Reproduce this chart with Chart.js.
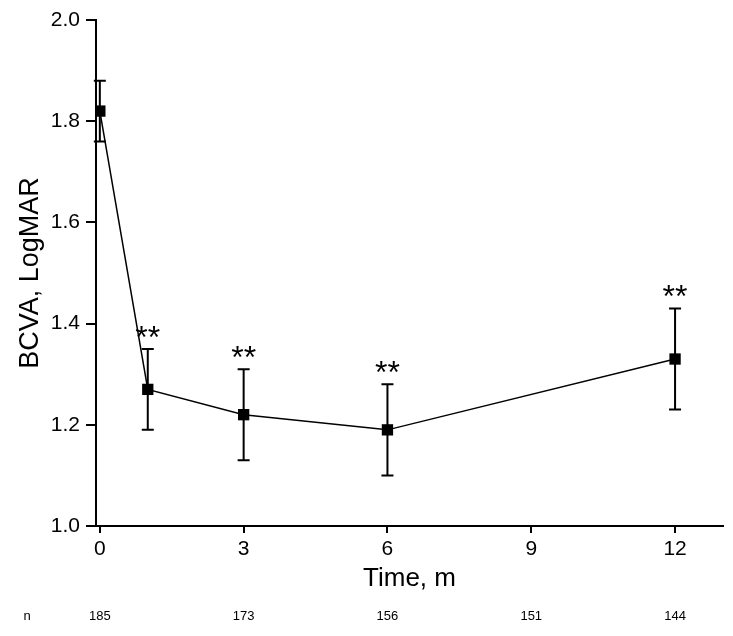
<!DOCTYPE html>
<html>
<head>
<meta charset="utf-8">
<script src="https://cdn.jsdelivr.net/npm/chart.js@4.4.1/dist/chart.umd.min.js"></script>
<style>
  html, body { margin: 0; padding: 0; background: #fff; }
  #wrap { width: 733px; height: 636px; }
</style>
</head>
<body>
<div id="wrap"><canvas id="bcvaChart"></canvas></div>
<script>
// time points (months) and mean BCVA with error bar ends
const months = [0, 1, 3, 6, 12];
const meanBcva = [1.82, 1.27, 1.22, 1.19, 1.33];
const upperBcva = [1.88, 1.35, 1.31, 1.28, 1.43];
const lowerBcva = [1.76, 1.19, 1.13, 1.10, 1.23];
const stars = ["", "**", "**", "**", "**"];

const xTicks = [0, 3, 6, 9, 12];
const yTicks = [1.0, 1.2, 1.4, 1.6, 1.8, 2.0];

// patients per time point, printed under the axis
const nMonths = [0, 3, 6, 9, 12];
const nCounts = [185, 173, 156, 151, 144];

const FONT = "'Liberation Sans', Arial, sans-serif";

const errorBars = {
    id: "errorBars",
    beforeDatasetsDraw(chart) {
        const ctx = chart.ctx;
        const x = chart.scales.x;
        const y = chart.scales.y;
        ctx.save();
        ctx.strokeStyle = "#000";
        ctx.lineWidth = 2;
        months.forEach(function (m, i) {
            const px = x.getPixelForValue(m);
            const top = y.getPixelForValue(upperBcva[i]);
            const bot = y.getPixelForValue(lowerBcva[i]);
            ctx.beginPath();
            ctx.moveTo(px, top);
            ctx.lineTo(px, bot);
            ctx.moveTo(px - 6, top);
            ctx.lineTo(px + 6, top);
            ctx.moveTo(px - 6, bot);
            ctx.lineTo(px + 6, bot);
            ctx.stroke();
        });
        ctx.restore();
    },
    afterDraw(chart) {
        const ctx = chart.ctx;
        const x = chart.scales.x;
        const y = chart.scales.y;
        ctx.save();
        ctx.fillStyle = "#000";
        ctx.textAlign = "center";
        ctx.textBaseline = "alphabetic";
        ctx.font = "32px " + FONT;
        months.forEach(function (m, i) {
            if (!stars[i]) return;
            ctx.fillText(stars[i], x.getPixelForValue(m), y.getPixelForValue(upperBcva[i]) - 1);
        });

        ctx.font = "13px " + FONT;
        ctx.textBaseline = "middle";
        ctx.fillText("n", 27, 616);
        nMonths.forEach(function (m, i) {
            ctx.fillText(String(nCounts[i]), x.getPixelForValue(m), 616);
        });
        ctx.restore();
    }
};

new Chart(document.getElementById("bcvaChart"), {
    type: "scatter",
    data: {
        datasets: [{
            data: months.map(function (m, i) { return { x: m, y: meanBcva[i] }; }),
            showLine: true,
            borderColor: "#000",
            borderWidth: 1.5,
            pointStyle: "rect",
            pointRadius: 8,
            pointHoverRadius: 8,
            pointBackgroundColor: "#000",
            pointBorderColor: "#000",
            pointBorderWidth: 0
        }]
    },
    options: {
        responsive: true,
        maintainAspectRatio: false,
        animation: false,
        events: [],
        layout: { padding: { top: 20, right: 10, bottom: 0, left: 0 } },
        plugins: {
            legend: { display: false },
            tooltip: { enabled: false }
        },
        scales: {
            x: {
                type: "linear",
                min: -0.08,
                max: 13,
                afterBuildTicks: function (axis) {
                    axis.ticks = xTicks.map(function (v) { return { value: v }; });
                },
                afterFit: function (axis) { axis.height = 110; },
                grid: { drawOnChartArea: false, drawTicks: true, tickLength: 7, color: "#000", lineWidth: 2 },
                border: { display: true, color: "#000", width: 2 },
                ticks: { color: "#000", padding: 4, maxRotation: 0, font: { family: FONT, size: 21 } },
                title: {
                    display: true,
                    text: "Time, m",
                    color: "#000",
                    font: { family: FONT, size: 26 },
                    padding: { top: 0, bottom: 42 }
                }
            },
            y: {
                min: 1.0,
                max: 2.0,
                afterBuildTicks: function (axis) {
                    axis.ticks = yTicks.map(function (v) { return { value: v }; });
                },
                afterFit: function (axis) { axis.width = 96; },
                grid: { drawOnChartArea: false, drawTicks: true, tickLength: 10, color: "#000", lineWidth: 2 },
                border: { display: true, color: "#000", width: 2 },
                ticks: {
                    color: "#000",
                    padding: 6,
                    font: { family: FONT, size: 21 },
                    callback: function (v) { return Number(v).toFixed(1); }
                },
                title: {
                    display: true,
                    text: "BCVA, LogMAR",
                    color: "#000",
                    font: { family: FONT, size: 27 },
                    padding: { top: 14, bottom: 0 }
                }
            }
        }
    },
    plugins: [errorBars]
});
</script>
</body>
</html>
